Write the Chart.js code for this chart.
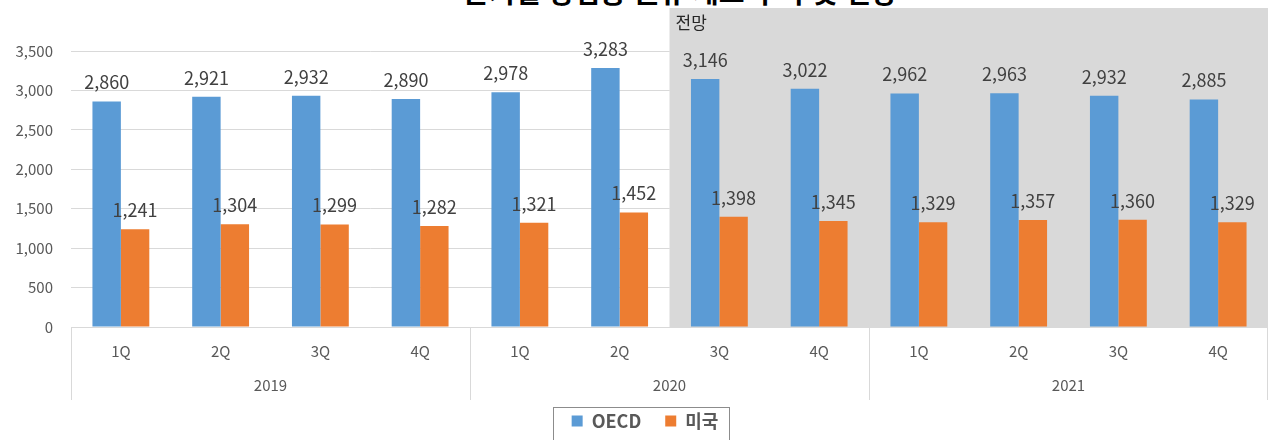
<!DOCTYPE html>
<html lang="ko">
<head>
<meta charset="utf-8">
<title>OECD 및 미국 재고 전망</title>
<script src="https://cdn.jsdelivr.net/npm/chart.js@4.4.0/dist/chart.umd.min.js"></script>
<style>
  html, body { margin: 0; padding: 0; background: #fff; }
  #wrap { position: relative; width: 1268px; height: 440px; overflow: hidden; }
  #title {
    position: absolute; top: -23px; left: 0; width: 1360px;
    text-align: center; font: bold 28px 'Noto Sans CJK KR'; line-height: 1; color: #000;
  }
  canvas { position: absolute; left: 0; top: 0; }
</style>
</head>
<body>
<div id="wrap">
  <div id="title">분기별 상업용 원유 재고 추이 및 전망</div>
  <canvas id="stockChart" width="1268" height="440"></canvas>
</div>
<script>
// ---- data ----
const quarters = ['1Q', '2Q', '3Q', '4Q', '1Q', '2Q', '3Q', '4Q', '1Q', '2Q', '3Q', '4Q'];
const years = ['2019', '2020', '2021'];
const quartersPerYear = 4;
const oecdStock = [2860, 2921, 2932, 2890, 2978, 3283, 3146, 3022, 2962, 2963, 2932, 2885];
const usStock = [1241, 1304, 1299, 1282, 1321, 1452, 1398, 1345, 1329, 1357, 1360, 1329];
const seriesNames = ['OECD', '미국'];
const forecastStart = 6;        // first forecast quarter (2020 3Q)
const forecastLabel = '전망';
const yMax = 3500, yStep = 500;

const FONT = "'Noto Sans CJK KR', 'Noto Sans', sans-serif";
const textGray = '#595959';
const gridGray = '#d9d9d9';

// shaded forecast area, grouped year axis, value labels, legend frame
const decor = {
  id: 'decor',
  afterLayout(chart) {
    // legend in the original sits a little right of centre
    chart.legend.left += 11;
    chart.legend.right += 11;
  },
  beforeDatasetsDraw(chart) {
    const { ctx, chartArea, scales: { x } } = chart;
    const half = (x.getPixelForValue(1) - x.getPixelForValue(0)) / 2;
    const left = x.getPixelForValue(forecastStart) - half;
    ctx.save();
    ctx.fillStyle = '#d9d9d9';
    ctx.fillRect(left, 8, chartArea.right - left, chartArea.bottom - 8);
    ctx.fillStyle = '#262626';
    ctx.font = '17px ' + FONT;
    ctx.textBaseline = 'middle';
    ctx.fillText(forecastLabel, left + 6, 23);
    ctx.restore();
  },
  afterDatasetsDraw(chart) {
    const { ctx } = chart;
    ctx.save();
    ctx.font = '18px ' + FONT;
    ctx.fillStyle = '#404040';
    ctx.textAlign = 'center';
    ctx.textBaseline = 'middle';
    chart.data.datasets.forEach((ds, i) => {
      chart.getDatasetMeta(i).data.forEach((bar, j) => {
        ctx.fillText(ds.data[j].toLocaleString('en-US'), bar.x, bar.y - 19);
      });
    });
    ctx.restore();
  },
  afterDraw(chart) {
    const { ctx, chartArea, scales: { x } } = chart;
    const half = (x.getPixelForValue(1) - x.getPixelForValue(0)) / 2;
    ctx.save();
    // year groups below the quarter labels
    ctx.strokeStyle = gridGray;
    ctx.lineWidth = 1;
    for (let g = 0; g <= years.length; g++) {
      let px = g < years.length ? x.getPixelForValue(g * quartersPerYear) - half : chartArea.right - 1;
      px = Math.round(px) + 0.5;
      ctx.beginPath();
      ctx.moveTo(px, chartArea.bottom);
      ctx.lineTo(px, 400);
      ctx.stroke();
    }
    ctx.font = '15px ' + FONT;
    ctx.fillStyle = textGray;
    ctx.textAlign = 'center';
    ctx.textBaseline = 'middle';
    years.forEach((yr, g) => {
      const a = x.getPixelForValue(g * quartersPerYear);
      const b = x.getPixelForValue(g * quartersPerYear + quartersPerYear - 1);
      ctx.fillText(yr, (a + b) / 2, 385);
    });
    // frame round the legend
    const hb = chart.legend.legendHitBoxes;
    if (hb && hb.length) {
      const last = hb[hb.length - 1];
      const l = hb[0].left - 19;
      const r = last.left + last.width + 10;
      const t = hb[0].top - 5;
      ctx.strokeStyle = '#8c8c8c';
      ctx.strokeRect(Math.round(l) + 0.5, Math.round(t) + 0.5, Math.round(r - l), 60);
    }
    ctx.restore();
  }
};

new Chart(document.getElementById('stockChart'), {
  type: 'bar',
  data: {
    labels: quarters,
    datasets: [
      { label: seriesNames[0], data: oecdStock, backgroundColor: '#5b9bd5' },
      { label: seriesNames[1], data: usStock, backgroundColor: '#ed7d31' }
    ]
  },
  options: {
    responsive: false,
    animation: false,
    devicePixelRatio: 1,
    layout: { padding: { top: 51, right: 0, left: 0, bottom: 0 } },
    datasets: { bar: { categoryPercentage: 0.57, barPercentage: 1 } },
    plugins: {
      tooltip: { enabled: false },
      legend: {
        position: 'bottom',
        labels: {
          boxWidth: 11, boxHeight: 11, padding: 24,
          color: textGray,
          font: { family: FONT, size: 18, weight: 'bold' }
        }
      }
    },
    scales: {
      x: {
        grid: { display: false, drawTicks: false },
        border: { display: true, color: gridGray },
        ticks: { color: textGray, padding: 15, font: { family: FONT, size: 15 }, maxRotation: 0 },
        afterFit: (s) => { s.height = 61; }
      },
      y: {
        min: 0, max: yMax,
        grid: { color: gridGray, drawTicks: false },
        border: { display: false },
        ticks: {
          stepSize: yStep, padding: 18, color: textGray,
          font: { family: FONT, size: 15 },
          callback: (v) => v.toLocaleString('en-US')
        },
        afterFit: (s) => { s.width = 71; }
      }
    }
  },
  plugins: [decor]
});
</script>
</body>
</html>
